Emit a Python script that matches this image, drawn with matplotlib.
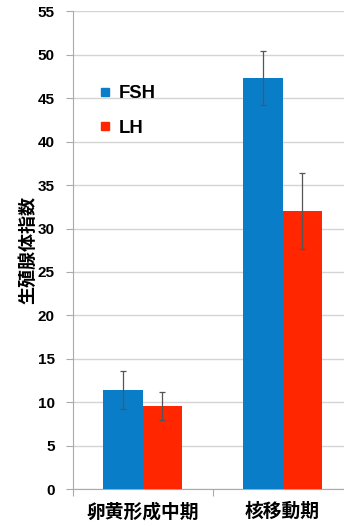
import matplotlib
matplotlib.use("Agg")
import matplotlib.pyplot as plt
from matplotlib.lines import Line2D
import numpy as np

categories = ["卵黄形成中期", "核移動期"]
series = ["FSH", "LH"]
fsh_values = [11.4, 47.3]
fsh_errors = [2.2, 3.1]
lh_values = [9.6, 32.0]
lh_errors = [1.6, 4.4]
y_ticks = [0, 5, 10, 15, 20, 25, 30, 35, 40, 45, 50, 55]

blue = "#0A7DC8"
red = "#FF2600"
fonts = ["Liberation Sans", "Noto Sans CJK JP", "DejaVu Sans"]
plt.rcParams["font.family"] = fonts

fig = plt.figure(figsize=(3.44, 5.26), dpi=100)
ax = fig.add_axes([0.212, 0.0703, 0.788, 0.908])

x = np.arange(len(categories))
w = 0.282
err_kw = dict(ecolor="#555555", elinewidth=0.9, capsize=2.5, capthick=0.9)
ax.bar(x - w / 2, fsh_values, w, yerr=fsh_errors, color=blue, error_kw=err_kw, zorder=3)
ax.bar(x + w / 2, lh_values, w, yerr=lh_errors, color=red, error_kw=err_kw, zorder=3)

ax.set_ylim(0, 55)
ax.set_xlim(-0.5, 1.44)
ax.set_yticks(y_ticks)
ax.set_yticklabels([str(t) for t in y_ticks], fontsize=11, fontweight="bold")
ax.yaxis.grid(True, color="#d4d4d4", linewidth=1.0, zorder=0)
ax.set_axisbelow(True)

ax.set_xticks([-0.5, 0.5])
ax.set_xticklabels(["", ""])
ax.tick_params(axis="x", length=5, color="#aaaaaa")
for xi, lab in zip(x, categories):
    ax.annotate(lab, xy=(xi, 0), xycoords="data", xytext=(0, -9.5),
                textcoords="offset points", ha="center", va="top",
                fontsize=13.5, fontweight="bold", family=["Noto Sans CJK JP"],
                annotation_clip=False)
ax.tick_params(axis="y", length=5, color="#aaaaaa", pad=8)

for side in ["top", "right"]:
    ax.spines[side].set_visible(False)
ax.spines["left"].set_color("#aaaaaa")
ax.spines["bottom"].set_color("#aaaaaa")

ax.set_ylabel("生殖腺体指数", fontsize=13, fontweight="bold",
              family=["Noto Sans CJK JP"], labelpad=0.5)

handles = [Line2D([], [], marker="s", linestyle="", color=c, markersize=6)
           for c in (blue, red)]
leg = ax.legend(handles, series, loc="upper left", bbox_to_anchor=(0.038, 0.88),
                frameon=False, handlelength=0.6, handletextpad=0.4,
                labelspacing=0.95, prop=dict(size=13.3, weight="bold", family=fonts))

fig.savefig("out.png", dpi=100)
